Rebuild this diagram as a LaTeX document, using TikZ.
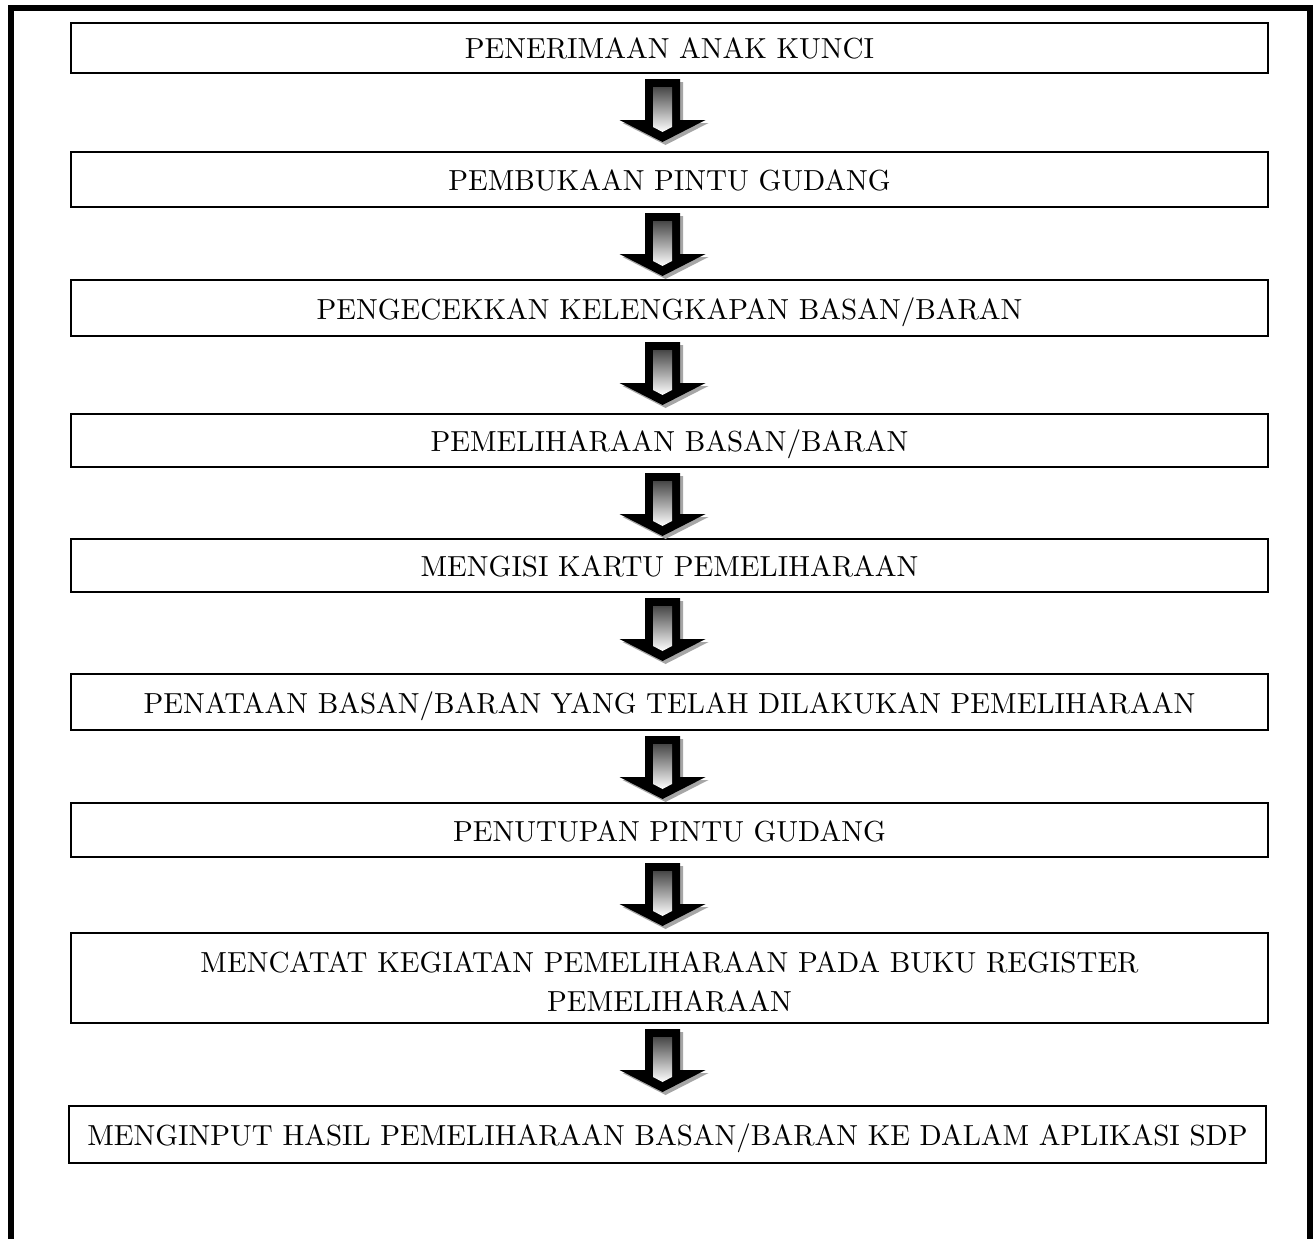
\documentclass[tikz,border=0pt]{standalone}
\usepackage{fontspec}
\setmainfont{lmroman10-regular}[Extension=.otf]
\usetikzlibrary{shadows,calc}
\tikzset{
  stepbox/.style={draw=black, line width=2pt, fill=white, minimum width=1197pt,
    inner sep=0pt, font=\fontsize{29}{39}\selectfont, text height=22pt, text depth=0pt,
    drop shadow={shadow xshift=1.2pt, shadow yshift=-1.2pt, fill=black!35, opacity=1}},
  twobox/.style={draw=black, line width=2pt, fill=white, minimum width=1197pt,
    inner sep=0pt, font=\fontsize{29}{39}\selectfont, align=center,
    drop shadow={shadow xshift=1.2pt, shadow yshift=-1.2pt, fill=black!35, opacity=1}},
  frameline/.style={line width=6pt, draw=black},
  pics/barrow/.style={code={
    \fill[black!35, shift={(3,3)}] (-17.5,0) -- (17.5,0) -- (17.5,41) -- (43,41) -- (0,63) -- (-43,41) -- (-17.5,41) -- cycle;
    \fill[black] (-17.5,0) -- (17.5,0) -- (17.5,41) -- (43,41) -- (0,63) -- (-43,41) -- (-17.5,41) -- cycle;
    \shade[top color=black!72, bottom color=white] (-9.5,8) -- (9.5,8) -- (9.5,48) -- (0,53) -- (-9.5,48) -- cycle;
  }}
}
\begin{document}
\begin{tikzpicture}[x=1pt, y=-1pt]
\useasboundingbox (0,0) rectangle (1314,1239);
\fill[white] (0,0) rectangle (1314,1239);
\draw[frameline] (11,1260) -- (11,8) -- (1310,8) -- (1310,1260);

\node[stepbox, minimum height=50pt] (b1) at (669.5,48) {PENERIMAAN ANAK KUNCI};
\node[stepbox, minimum height=55pt] (b2) at (669.5,179.5) {PEMBUKAAN PINTU GUDANG};
\node[stepbox, minimum height=56pt] (b3) at (669.5,308) {PENGECEKKAN KELENGKAPAN BASAN/BARAN};
\node[stepbox, minimum height=53pt] (b4) at (669.5,440.5) {PEMELIHARAAN BASAN/BARAN};
\node[stepbox, minimum height=53pt] (b5) at (669.5,565.5) {MENGISI KARTU PEMELIHARAAN};
\node[stepbox, minimum height=56pt] (b6) at (669.5,702) {PENATAAN BASAN/BARAN YANG TELAH DILAKUKAN PEMELIHARAAN};
\node[stepbox, minimum height=54pt] (b7) at (669.5,830) {PENUTUPAN PINTU GUDANG};
\node[twobox, minimum height=90pt] (b8) at (669.5,978) {\rule{0pt}{28pt}MENCATAT KEGIATAN PEMELIHARAAN PADA BUKU REGISTER\\PEMELIHARAAN};
\node[stepbox, minimum height=57pt] (b9) at (667.5,1134.5) {MENGINPUT HASIL PEMELIHARAAN BASAN/BARAN KE DALAM APLIKASI SDP};

\pic (a1) at ($(b1.south)+(-7,5)$) {barrow};
\pic (a2) at ($(b2.south)+(-7,5)$) {barrow};
\pic (a3) at ($(b3.south)+(-7,5)$) {barrow};
\pic (a4) at ($(b4.south)+(-7,5)$) {barrow};
\pic (a5) at ($(b5.south)+(-7,5)$) {barrow};
\pic (a6) at ($(b6.south)+(-7,5)$) {barrow};
\pic (a7) at ($(b7.south)+(-7,5)$) {barrow};
\pic (a8) at ($(b8.south)+(-7,5)$) {barrow};
\end{tikzpicture}
\end{document}
